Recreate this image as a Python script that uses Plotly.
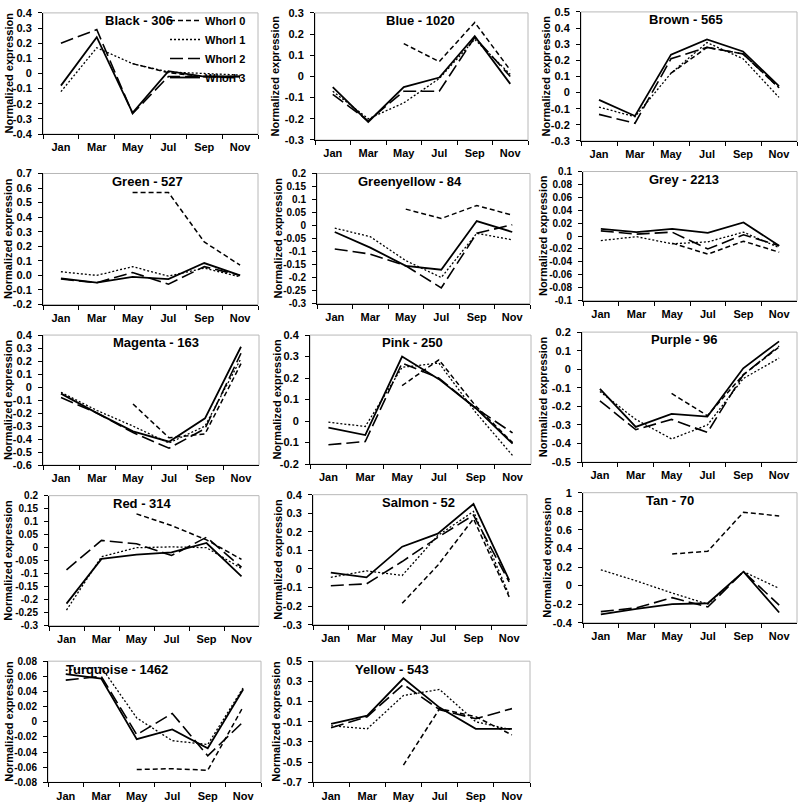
import plotly.graph_objects as go

months = ["Jan", "Mar", "May", "Jul", "Sep", "Nov"]
whorls = ["Whorl 0", "Whorl 1", "Whorl 2", "Whorl 3"]
N = None

# each module: [Whorl 0, Whorl 1, Whorl 2, Whorl 3]
black = [[N, N, 0.065, 0.005, -0.02, -0.02],
         [-0.12, 0.17, 0.065, 0.01, 0.0, -0.01],
         [0.2, 0.29, -0.265, -0.02, -0.02, -0.03],
         [-0.08, 0.24, -0.26, 0.015, -0.02, -0.02]]
blue = [[N, N, 0.155, 0.07, 0.255, 0.03],
        [-0.07, -0.2, -0.125, -0.01, 0.175, 0.01],
        [-0.085, -0.21, -0.07, -0.07, 0.185, 0.0],
        [-0.05, -0.215, -0.05, -0.005, 0.19, -0.035]]
brown = [[N, N, 0.12, 0.28, 0.24, 0.03],
         [-0.09, -0.15, 0.12, 0.31, 0.21, -0.03],
         [-0.135, -0.19, 0.21, 0.28, 0.24, 0.03],
         [-0.045, -0.145, 0.235, 0.33, 0.255, 0.04]]
green = [[N, N, 0.57, 0.57, 0.23, 0.07],
         [0.025, 0.0, 0.06, -0.005, 0.05, -0.01],
         [-0.025, -0.05, 0.02, -0.06, 0.06, 0.0],
         [-0.02, -0.05, -0.01, -0.025, 0.085, 0.0]]
greenyellow = [[N, N, 0.063, 0.027, 0.077, 0.04],
               [-0.01, -0.043, -0.135, -0.2, -0.03, -0.055],
               [-0.09, -0.11, -0.155, -0.24, -0.03, 0.003],
               [-0.025, -0.085, -0.155, -0.17, 0.017, -0.025]]
grey = [[N, N, -0.011, -0.028, -0.008, -0.025],
        [-0.007, -0.001, -0.012, -0.009, 0.006, -0.018],
        [0.008, 0.003, 0.006, -0.02, 0.002, -0.015],
        [0.011, 0.006, 0.011, 0.005, 0.021, -0.015]]
magenta = [[N, N, -0.13, -0.39, -0.36, 0.18],
           [-0.04, -0.18, -0.3, -0.43, -0.3, 0.22],
           [-0.08, -0.2, -0.35, -0.47, -0.32, 0.26],
           [-0.05, -0.2, -0.34, -0.42, -0.24, 0.31]]
pink = [[N, N, 0.165, 0.285, 0.07, -0.1],
        [-0.005, -0.025, 0.25, 0.27, 0.04, -0.16],
        [-0.11, -0.095, 0.27, 0.2, 0.06, -0.055],
        [-0.03, -0.065, 0.3, 0.195, 0.06, -0.105]]
purple = [[N, N, -0.13, -0.25, -0.03, 0.12],
          [-0.12, -0.27, -0.375, -0.3, -0.05, 0.06],
          [-0.17, -0.325, -0.27, -0.34, -0.03, 0.125],
          [-0.105, -0.31, -0.24, -0.255, 0.005, 0.15]]
red = [[N, N, 0.13, 0.085, 0.03, -0.045],
       [-0.24, -0.035, 0.0, 0.003, 0.0, -0.08],
       [-0.085, 0.028, 0.015, -0.03, 0.04, -0.075],
       [-0.215, -0.043, -0.027, -0.018, 0.018, -0.11]]
salmon = [[N, N, -0.185, 0.02, 0.27, -0.15],
          [-0.045, -0.01, -0.035, 0.18, 0.31, -0.14],
          [-0.09, -0.08, 0.04, 0.17, 0.29, -0.07],
          [-0.02, -0.045, 0.12, 0.19, 0.35, -0.06]]
tan = [[N, N, 0.34, 0.37, 0.79, 0.75],
       [0.17, 0.05, -0.08, -0.2, 0.15, -0.03],
       [-0.28, -0.24, -0.13, -0.23, 0.15, -0.21],
       [-0.31, -0.25, -0.2, -0.19, 0.15, -0.29]]
turquoise = [[N, N, -0.063, -0.062, -0.064, 0.02],
             [0.068, 0.072, 0.005, -0.025, -0.03, 0.045],
             [0.055, 0.06, -0.017, 0.011, -0.045, 0.0],
             [0.063, 0.057, -0.023, -0.01, -0.035, 0.043]]
yellow = [[N, N, -0.53, 0.03, -0.05, -0.23],
          [-0.14, -0.17, 0.16, 0.22, -0.1, -0.18],
          [-0.16, -0.05, 0.27, 0.02, -0.07, 0.03],
          [-0.12, -0.04, 0.33, 0.04, -0.17, -0.17]]

modules = ["Black", "Blue", "Brown", "Green", "Greenyellow", "Grey", "Magenta",
           "Pink", "Purple", "Red", "Salmon", "Tan", "Turquoise", "Yellow"]
gene_counts = [306, 1020, 565, 527, 84, 2213, 163, 250, 96, 314, 52, 70, 1462, 543]
series = [black, blue, brown, green, greenyellow, grey, magenta, pink, purple,
          red, salmon, tan, turquoise, yellow]
# (min, max, step) of each y axis
y_scales = [(-0.4, 0.4, 0.1), (-0.3, 0.3, 0.1), (-0.3, 0.5, 0.1),
            (-0.2, 0.7, 0.1), (-0.3, 0.2, 0.05), (-0.1, 0.1, 0.02),
            (-0.6, 0.4, 0.1), (-0.2, 0.4, 0.1), (-0.5, 0.2, 0.1),
            (-0.3, 0.2, 0.05), (-0.3, 0.4, 0.1), (-0.4, 1.0, 0.2),
            (-0.08, 0.08, 0.02), (-0.7, 0.5, 0.2)]
fixed_decimals = [False, False, False, True, False, False, False, False, False,
                  False, False, False, False, False]

# ---- layout geometry (pixels): plot-area left, right, top, bottom per panel ----
W, H = 800, 812
box_px = [(43, 258, 7, 130), (315, 528, 7, 136), (581, 797, 6, 137),
          (43, 258, 170, 303), (317, 530, 170, 302), (583, 797, 168, 299),
          (43, 259, 334, 466), (310, 531, 334, 465), (582, 797, 331, 463),
          (49, 259, 497, 629), (313, 527, 496, 628), (583, 797, 494, 626),
          (48, 261, 665, 788), (313, 530, 665, 788)]
ytitle_px = [9, 275, 546, 8, 278, 543, 8, 277, 543, 8, 278, 547, 9, 276]
title_x_px = [139, 420, 686, 147, 410, 684, 156, 412, 684, 142, 418, 670, 117, 392]

styles = [dict(dash="5px,3px", width=1.5),
          dict(dash="2px,2px", width=1.3),
          dict(dash="13px,5px", width=1.6),
          dict(dash="solid", width=1.8)]

FONT = "Liberation Sans, Arial, sans-serif"


def fmt(v, dec, fixed):
    s = f"{v:.{dec}f}"
    if not fixed:
        s = s.rstrip("0").rstrip(".")
    if s in ("-0", "", "-0.0"):
        s = "0" if not fixed else "0.0"
    return s


fig = go.Figure()
layout = {}
annotations = []
shapes = []

for i, mod in enumerate(modules):
    xs = "x" if i == 0 else f"x{i+1}"
    ys = "y" if i == 0 else f"y{i+1}"
    xk = "xaxis" if i == 0 else f"xaxis{i+1}"
    yk = "yaxis" if i == 0 else f"yaxis{i+1}"
    x0, x1, t, b = box_px[i]
    ymin, ymax, dt = y_scales[i]
    n = int(round((ymax - ymin) / dt))
    dec = 1 if abs(dt * 10 - round(dt * 10)) < 1e-9 else 2
    tv = [round(ymin + k * dt, 6) for k in range(n + 1)]
    tt = [fmt(v, dec, fixed_decimals[i]) for v in tv]
    tick_size = 11 if dec == 1 else 10

    layout[xk] = dict(domain=[x0 / W, x1 / W], anchor=ys, type="category",
                      categoryorder="array", categoryarray=months,
                      range=[-0.5, 5.5], tickson="boundaries", ticks="outside",
                      ticklen=4, tickcolor="black", showline=True,
                      linecolor="black", linewidth=1, showgrid=False,
                      zeroline=False, fixedrange=True, ticklabelstandoff=3,
                      tickfont=dict(size=11, family=FONT, weight="bold", color="black"))
    layout[yk] = dict(domain=[1 - b / H, 1 - t / H], anchor=xs,
                      range=[ymin, ymax], tickvals=tv, ticktext=tt,
                      ticks="outside", ticklen=4, tickcolor="black",
                      showline=True, linecolor="black", linewidth=1,
                      showgrid=False, zeroline=False, fixedrange=True,
                      ticklabelstandoff=4,
                      tickfont=dict(size=tick_size, family=FONT, weight="bold", color="black"))
    shapes.append(dict(type="rect", xref=f"{xs} domain", yref=f"{ys} domain",
                       x0=0, x1=1, y0=0, y1=1, layer="below",
                       line=dict(color="#b8b8b8", width=1)))

    for j, vals in enumerate(series[i]):
        fig.add_trace(go.Scatter(
            x=months, y=vals, mode="lines", name=whorls[j],
            legendgroup=whorls[j], showlegend=(i == 0),
            connectgaps=False, xaxis=xs, yaxis=ys, hoverinfo="skip",
            line=dict(color="black", **styles[j])))

    annotations.append(dict(text=f"{mod} - {gene_counts[i]}", xref="paper", yref="paper",
                            x=title_x_px[i] / W, y=1 - (t + 8) / H,
                            xanchor="center", yanchor="middle", showarrow=False,
                            font=dict(size=13, family=FONT, weight="bold", color="black")))
    annotations.append(dict(text="Normalized expression", xref="paper", yref="paper",
                            x=ytitle_px[i] / W, y=1 - ((t + b) / 2) / H,
                            xanchor="center", yanchor="middle", textangle=-90,
                            showarrow=False,
                            font=dict(size=11, family=FONT, weight="bold", color="black")))

fig.update_layout(**layout)
fig.update_layout(
    width=W, height=H,
    margin=dict(l=0, r=0, t=0, b=0),
    paper_bgcolor="white", plot_bgcolor="white",
    font=dict(family=FONT, size=11, color="black", weight="bold"),
    annotations=annotations, shapes=shapes,
    showlegend=True,
    legend=dict(x=165 / W, y=1.0, xanchor="left", yanchor="top",
                bgcolor="rgba(0,0,0,0)", borderwidth=0, tracegroupgap=0,
                itemwidth=30,
                font=dict(size=11, family=FONT, weight="bold", color="black")),
)

fig.write_html("out.html", config={"displayModeBar": False},
               post_script="document.body.style.margin='0px';document.body.style.overflow='hidden';")
